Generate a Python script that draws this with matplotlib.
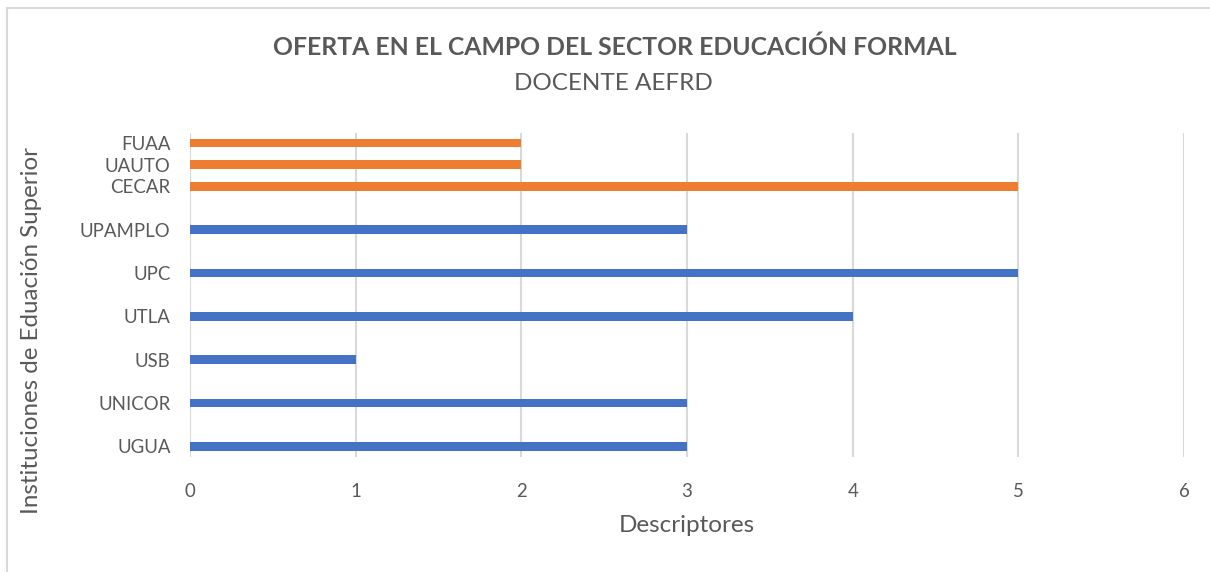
import matplotlib
matplotlib.use("Agg")
import matplotlib.pyplot as plt
from matplotlib.lines import Line2D

plt.rcParams['font.family'] = ['Lato', 'DejaVu Sans']

# data, bottom to top
blue_names = ['UGUA', 'UNICOR', 'USB', 'UTLA', 'UPC', 'UPAMPLO']
blue_vals = [3, 3, 1, 4, 5, 3]
orange_names = ['CECAR', 'UAUTO', 'FUAA']
orange_vals = [5, 2, 2]

blue_pos = [0, 1, 2, 3, 4, 5]
orange_pos = [6, 6.5, 7]

title = 'OFERTA EN EL CAMPO DEL SECTOR EDUCACIÓN FORMAL'
subtitle = 'DOCENTE AEFRD'
xlabel = 'Descriptores'
ylabel = 'Instituciones de Eduación Superior'

txt = '#595959'
blue = '#4472C4'
orange = '#ED7D31'

fig = plt.figure(figsize=(12.1, 5.72), dpi=100)
ax = fig.add_axes([190 / 1210, 1 - 457 / 572, (1184 - 190) / 1210, (457 - 133) / 572])

ax.barh(blue_pos, blue_vals, height=0.2, color=blue, zorder=3)
ax.barh(orange_pos, orange_vals, height=0.2, color=orange, zorder=3)

ax.set_xlim(0, 6)
ax.set_ylim(-0.25, 7.23)
ax.set_xticks(range(7))
ax.set_yticks(blue_pos + orange_pos)
ax.set_yticklabels(blue_names + orange_names)
ax.tick_params(axis='both', length=0, labelsize=13.4, colors=txt)
ax.tick_params(axis='x', pad=19)
ax.tick_params(axis='y', pad=14)

ax.grid(axis='x', color='#D9D9D9', linewidth=1.5, zorder=0)
for s in ax.spines.values():
    s.set_visible(False)

fig.text(687 / 1210, 1 - 525 / 572, xlabel, ha='center', va='center', fontsize=17.5, color=txt)
fig.text(32 / 1210, 1 - 330 / 572, ylabel, ha='center', va='center', fontsize=17.4,
         color=txt, rotation=90)
fig.text(615 / 1210, 1 - 47 / 572, title, ha='center', va='center', fontsize=17.8,
         fontweight='bold', color=txt)
fig.text(613 / 1210, 1 - 83 / 572, subtitle, ha='center', va='center', fontsize=17.5, color=txt)

# chart border (top and left visible)
fig.add_artist(Line2D([7 / 1210, 7 / 1210], [0, 1 - 7.5 / 572], transform=fig.transFigure,
                      color='#D9D9D9', linewidth=1.5))
fig.add_artist(Line2D([7 / 1210, 1], [1 - 7.5 / 572, 1 - 7.5 / 572], transform=fig.transFigure,
                      color='#D9D9D9', linewidth=1.5))

fig.savefig('out.png', dpi=100)
